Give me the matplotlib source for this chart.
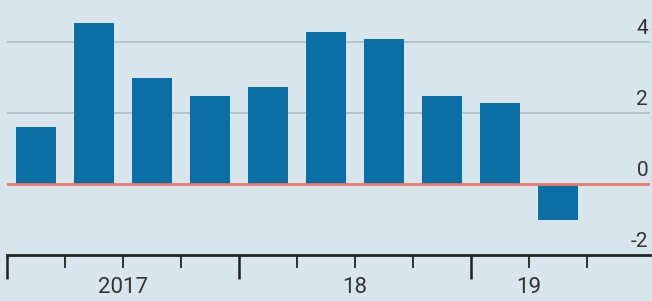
import matplotlib.pyplot as plt
import matplotlib.transforms as mtransforms
import numpy as np

quarters = ['2017Q1', '2017Q2', '2017Q3', '2017Q4',
            '2018Q1', '2018Q2', '2018Q3', '2018Q4',
            '2019Q1', '2019Q2']
growth = [1.62, 4.54, 2.99, 2.50, 2.75, 4.29, 4.09, 2.49, 2.30, -1.0]
year_labels = ['2017', '18', '19']
y_ticks = [4, 2, 0, -2]

bg = '#d9e5ed'
bar_color = '#0b6ea5'
text_color = '#333333'

plt.rcParams['font.family'] = ['Roboto', 'DejaVu Sans']

fig = plt.figure(figsize=(6.52, 3.01), dpi=100, facecolor=bg)
ax = fig.add_axes([7 / 652, 1 - 255.3 / 301, 643 / 652, 255.3 / 301])
ax.set_facecolor(bg)

x = np.arange(len(quarters))
ax.bar(x, growth, width=0.7, color=bar_color, zorder=2)

for v in [2, 4]:
    ax.axhline(v, color='#b2bec7', lw=1.2, zorder=1)
ax.axhline(0, color='#e57a6e', lw=2, zorder=3)

ax.set_xlim(-0.5, 10.59)
ax.set_ylim(-2, 5.19)

for s in ['top', 'left', 'right']:
    ax.spines[s].set_visible(False)
ax.spines['bottom'].set_color('#222222')
ax.spines['bottom'].set_linewidth(2)

# quarter boundaries: long ticks at year starts, short ticks otherwise
edges = np.arange(len(quarters) + 1) - 0.5
year_starts = edges[::4]
ax.set_xticks(year_starts)
ax.set_xticks([e for e in edges if e not in year_starts], minor=True)
ax.tick_params(axis='x', which='major', length=17, width=1.8, color='#222222',
               labelbottom=False)
ax.tick_params(axis='x', which='minor', length=9, width=1.3, color='#222222')
ax.set_yticks([])

label_pos = [year_starts[0] + 2, year_starts[1] + 2, year_starts[2] + 1]
for lab, pos in zip(year_labels, label_pos):
    ax.text(pos, -0.125, lab, transform=ax.get_xaxis_transform(),
            ha='center', va='center', fontsize=16, color=text_color)

trans = mtransforms.blended_transform_factory(ax.transAxes, ax.transData)
for v in y_ticks:
    ax.text(0.997, v + 0.12, f'{v}', transform=trans, ha='right', va='bottom',
            fontsize=15, color=text_color)

fig.savefig('out.png', dpi=100, facecolor=bg)
